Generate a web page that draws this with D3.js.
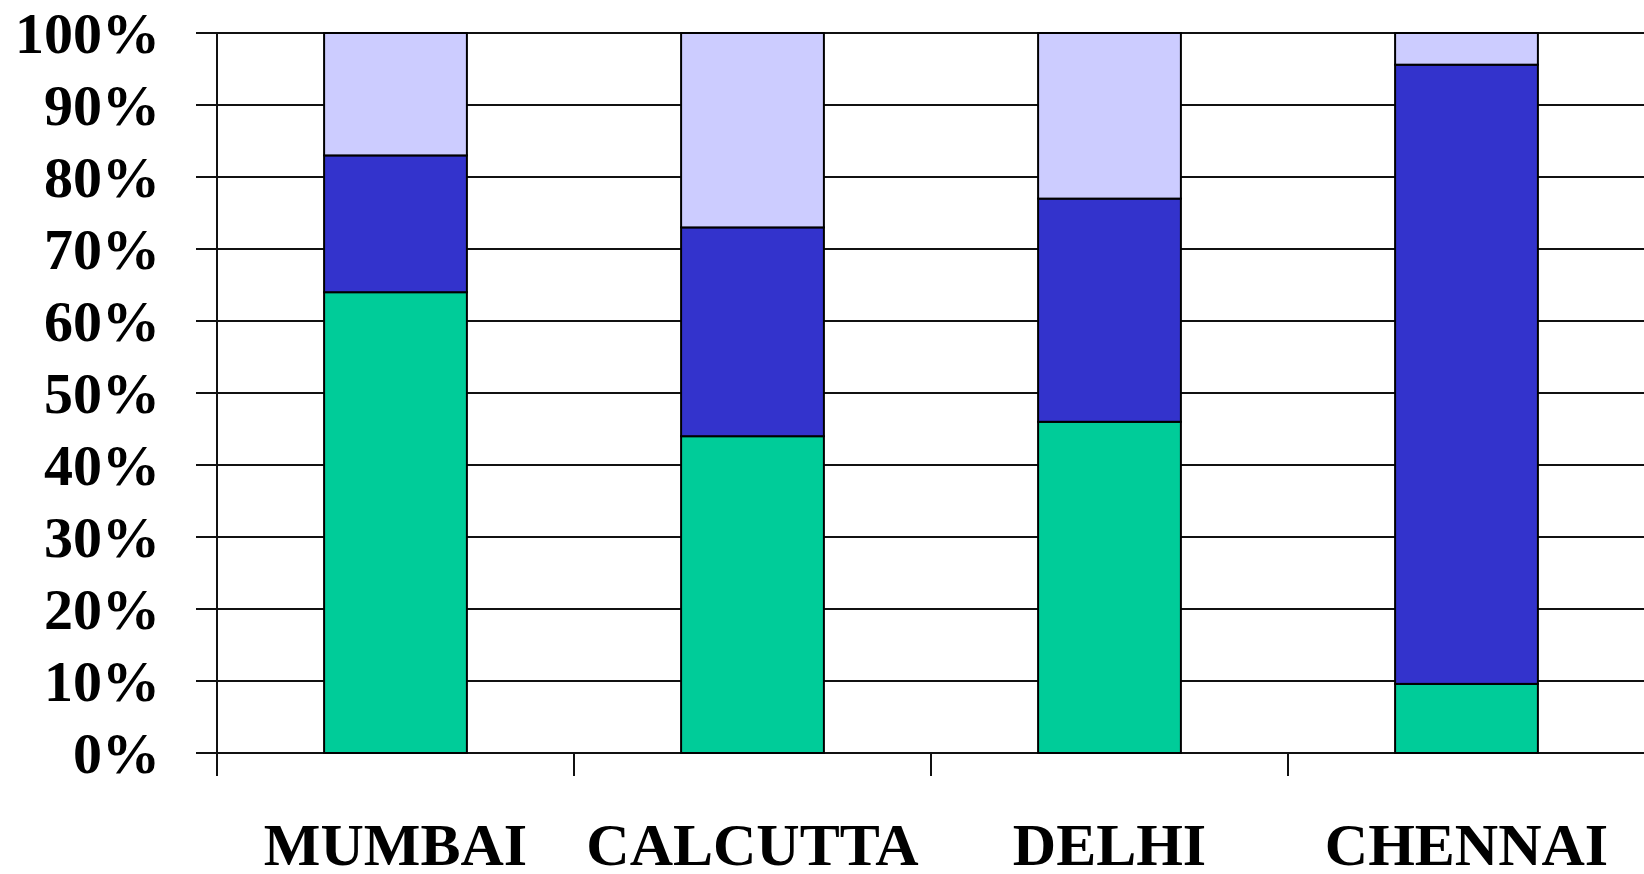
<!DOCTYPE html>
<html>
<head>
<meta charset="utf-8">
<script src="https://cdn.jsdelivr.net/npm/d3@7"></script>
<style>
  html, body { margin: 0; padding: 0; background: #fff; }
  svg { display: block; }
</style>
</head>
<body>
<svg id="chart" width="1644" height="874"></svg>
<script>
const categories = ["MUMBAI", "CALCUTTA", "DELHI", "CHENNAI"];
const seriesNames = ["Series 1", "Series 2", "Series 3"];
const series1 = [64, 44, 46, 9.6];
const series2 = [19, 29, 31, 86];
const series3 = [17, 27, 23, 4.4];
const yTicks = [0, 10, 20, 30, 40, 50, 60, 70, 80, 90, 100];
const colors = ["#00CC99", "#3333CC", "#CCCCFF"];

(function () {
const rows = categories.map((c, i) => ({
  cat: c, s0: series1[i], s1: series2[i], s2: series3[i]
}));

const W = 1644;
const plotLeft = 217, plotRight = 1645, plotTop = 33, plotBottom = 753;

const svg = d3.select("#chart");

const x = d3.scaleBand().domain(categories).range([plotLeft, plotRight])
  .paddingInner(0.6).paddingOuter(0.3);
const y = d3.scaleLinear().domain([0, 100]).range([plotBottom, plotTop]);

const stacked = d3.stack().keys(["s0", "s1", "s2"])(rows);

// gridlines
svg.append("g").selectAll("line").data(yTicks).join("line")
  .attr("x1", plotLeft - 21).attr("x2", W)
  .attr("y1", d => y(d)).attr("y2", d => y(d))
  .attr("stroke", "#111").attr("stroke-width", 2);

// left axis line
svg.append("line")
  .attr("x1", plotLeft).attr("x2", plotLeft)
  .attr("y1", y(100)).attr("y2", plotBottom + 23)
  .attr("stroke", "#111").attr("stroke-width", 2);

// category boundary ticks
const step = x.step();
svg.append("g").selectAll("line").data(categories.slice(1)).join("line")
  .attr("x1", d => x(d) + x.bandwidth() / 2 - step / 2)
  .attr("x2", d => x(d) + x.bandwidth() / 2 - step / 2)
  .attr("y1", plotBottom).attr("y2", plotBottom + 23)
  .attr("stroke", "#111").attr("stroke-width", 2);

// bars
svg.append("g").selectAll("g").data(stacked).join("g")
  .attr("fill", (d, i) => colors[i])
  .selectAll("rect").data(d => d).join("rect")
  .attr("x", d => x(d.data.cat))
  .attr("width", x.bandwidth())
  .attr("y", d => y(d[1]))
  .attr("height", d => y(d[0]) - y(d[1]))
  .attr("stroke", "#000").attr("stroke-width", 2);

// y labels
svg.append("g").selectAll("text").data(yTicks).join("text")
  .attr("x", 160).attr("y", d => y(d) + 20)
  .attr("text-anchor", "end")
  .attr("font-family", "'Liberation Serif', 'Times New Roman', serif")
  .attr("font-weight", "bold").attr("font-size", 58)
  .attr("fill", "#000")
  .text(d => d + "%");

// x labels
svg.append("g").selectAll("text").data(categories).join("text")
  .attr("x", d => x(d) + x.bandwidth() / 2)
  .attr("y", 865)
  .attr("text-anchor", "middle")
  .attr("font-family", "'Liberation Serif', 'Times New Roman', serif")
  .attr("font-weight", "bold").attr("font-size", 60)
  .attr("fill", "#000")
  .text(d => d);
})();
</script>
</body>
</html>
